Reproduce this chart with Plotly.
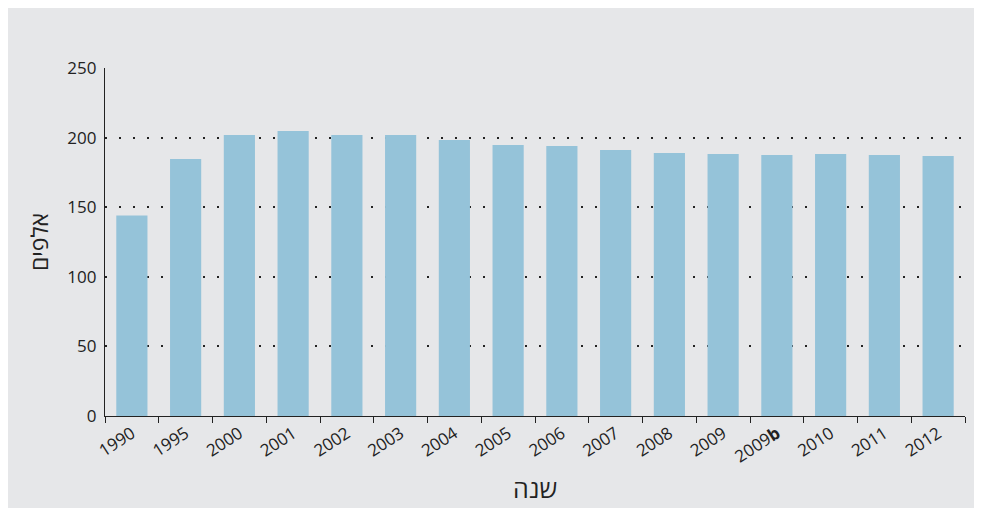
import plotly.graph_objects as go

years = ["1990", "1995", "2000", "2001", "2002", "2003", "2004", "2005",
         "2006", "2007", "2008", "2009", "2009<b>b</b>", "2010", "2011", "2012"]
values = [144, 184.6, 201.8, 204.7, 201.8, 201.8, 198.2, 194.7,
          194, 191.1, 189, 188.2, 187.5, 188.2, 187.5, 186.8]
y_ticks = [0, 50, 100, 150, 200, 250]

BG = "#e6e7e9"
BAR = "#95c3d9"

fig = go.Figure()
fig.add_trace(go.Bar(x=years, y=values, marker=dict(color=BAR, line=dict(width=0)),
                     hoverinfo="x+y"))

fig.update_layout(
    width=974, height=500,
    margin=dict(l=97, r=17, t=60, b=92),
    paper_bgcolor=BG, plot_bgcolor=BG,
    font=dict(family="Open Sans, Noto Sans, sans-serif", color="#222", size=18),
    bargap=0.42,
    showlegend=False,
    xaxis=dict(
        type="category", tickangle=-33, showgrid=False, automargin=False,
        showline=True, linecolor="#222", linewidth=1.2,
        ticks="outside", tickson="boundaries", ticklen=6, tickcolor="#222",
        tickfont=dict(size=17),
        title=dict(text="שנה", font=dict(size=25), standoff=14),
        fixedrange=True,
    ),
    yaxis=dict(
        range=[0, 250], tickvals=y_ticks, showgrid=True, automargin=False,
        gridcolor="#222", gridwidth=2, griddash="2px,12px",
        showline=True, linecolor="#222", linewidth=1.2,
        zeroline=False, ticks="", tickfont=dict(size=17),
        ticklabelstandoff=4,
        title=dict(text="אלפים", font=dict(size=23), standoff=12),
        fixedrange=True,
    ),
)

fig.write_html("out.html")
